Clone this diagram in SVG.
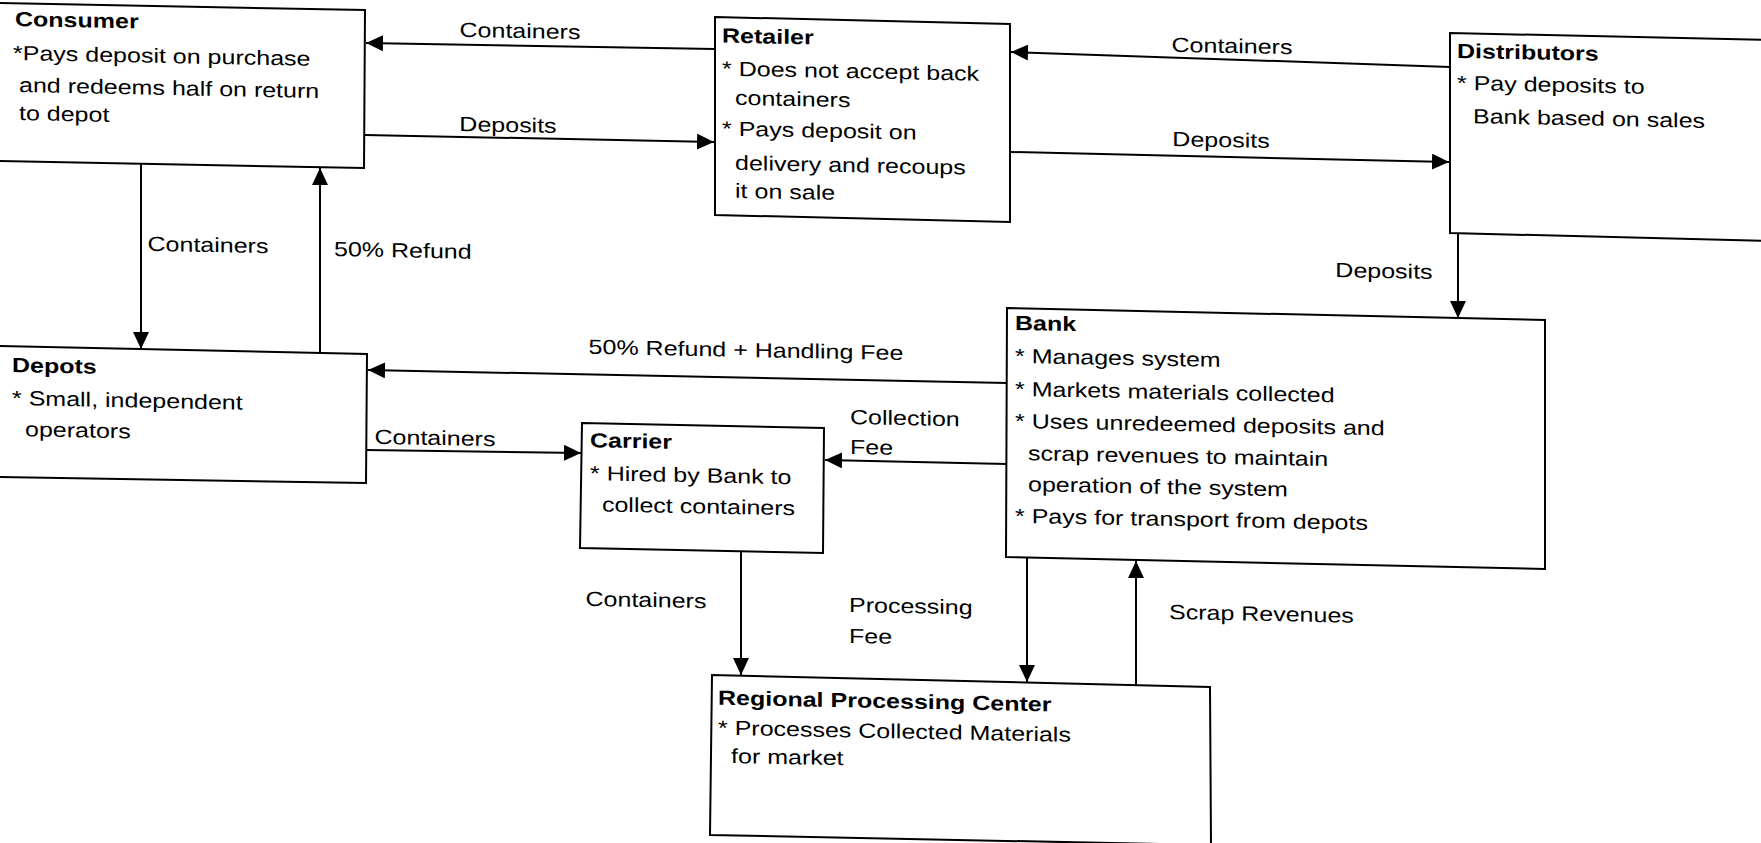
<svg xmlns="http://www.w3.org/2000/svg" width="1761" height="843" viewBox="0 0 1761 843">
<defs>
<style>
.box{fill:#fff;stroke:#000;stroke-width:2;stroke-linejoin:miter}
.t{font-family:"Liberation Sans",Arial,sans-serif;font-size:20.5px;fill:#000}
.b{font-weight:bold}
.c{stroke:#000;stroke-width:2;fill:none;marker-end:url(#ah)}
.m{text-anchor:middle}
</style>
<marker id="ah" markerUnits="userSpaceOnUse" markerWidth="18" markerHeight="16" refX="17" refY="8" orient="auto">
<path d="M0,0 L17,8 L0,16 z" fill="#000"/>
</marker>
</defs>
<rect width="1761" height="843" fill="#fff"/>
<g id="connectors">
<line class="c" x1="715" y1="49" x2="366" y2="43"/>
<line class="c" x1="365" y1="135" x2="714" y2="142"/>
<line class="c" x1="1450" y1="67" x2="1011" y2="52"/>
<line class="c" x1="1011" y1="152" x2="1449" y2="162"/>
<line class="c" x1="1458" y1="234" x2="1458" y2="318"/>
<line class="c" x1="141" y1="164" x2="141" y2="349"/>
<line class="c" x1="320" y1="353" x2="320" y2="168"/>
<line class="c" x1="1007" y1="383" x2="368" y2="370"/>
<line class="c" x1="366" y1="450" x2="581" y2="453"/>
<line class="c" x1="1007" y1="464" x2="825" y2="460"/>
<line class="c" x1="741" y1="551" x2="741" y2="675"/>
<line class="c" x1="1027" y1="558" x2="1027" y2="682"/>
<line class="c" x1="1136" y1="685" x2="1136" y2="561"/>
<text class="t m" x="520" y="38" transform="matrix(1.22,0.0244,0,1,-114.4,-12.69)">Containers</text>
<text class="t m" x="508" y="132" transform="matrix(1.22,0.0244,0,1,-111.76,-12.4)">Deposits</text>
<text class="t m" x="1232" y="53" transform="matrix(1.22,0.0244,0,1,-271.04,-30.06)">Containers</text>
<text class="t m" x="1221" y="147" transform="matrix(1.22,0.0244,0,1,-268.62,-29.79)">Deposits</text>
<text class="t m" x="1384" y="278" transform="matrix(1.22,0.0244,0,1,-304.48,-33.77)">Deposits</text>
<text class="t m" x="208" y="252" transform="matrix(1.22,0.0244,0,1,-45.76,-5.08)">Containers</text>
<text class="t" x="334" y="256" transform="matrix(1.22,0.0244,0,1,-73.48,-8.15)">50% Refund</text>
<text class="t m" x="746" y="357" transform="matrix(1.22,0.0244,0,1,-164.12,-18.2)">50% Refund + Handling Fee</text>
<text class="t m" x="435" y="445" transform="matrix(1.22,0.0244,0,1,-95.7,-10.61)">Containers</text>
<g transform="matrix(1.22,0.0244,0,1,-187,-20.74)">
<text class="t" x="850" y="424">Collection</text>
<text class="t" x="850" y="454">Fee</text>
</g>
<text class="t m" x="646" y="607" transform="matrix(1.22,0.0244,0,1,-142.12,-15.76)">Containers</text>
<g transform="matrix(1.22,0.0244,0,1,-186.78,-20.72)">
<text class="t" x="849" y="612">Processing</text>
<text class="t" x="849" y="643">Fee</text>
</g>
<text class="t" x="1169" y="619" transform="matrix(1.22,0.0244,0,1,-257.18,-28.52)">Scrap Revenues</text>
</g>
<g id="consumer">
<polygon class="box" points="-5,3 365,10 364,168 -5,161"/>
<g transform="matrix(1.22,0.0244,0,1,-3.3,-3.37)">
<text class="t b" x="15" y="29">Consumer</text>
<text class="t" x="13.4" y="63">*Pays deposit on purchase</text>
<text class="t" x="18.3" y="95">and redeems half on return</text>
<text class="t" x="18.3" y="123">to depot</text>
</g>
</g>
<g id="retailer">
<polygon class="box" points="715,17 1010,24 1010,222 715,215"/>
<g transform="matrix(1.22,0.0244,0,1,-158.84,-20.02)">
<text class="t b" x="722" y="45">Retailer</text>
<text class="t" x="722" y="78">* Does not accept back</text>
<text class="t" x="732.7" y="107">containers</text>
<text class="t" x="722" y="138">* Pays deposit on</text>
<text class="t" x="732.7" y="172">delivery and recoups</text>
<text class="t" x="732.7" y="200">it on sale</text>
</g>
</g>
<g id="distributors">
<polygon class="box" points="1450,33 1770,40 1770,241 1450,233"/>
<g transform="matrix(1.22,0.0244,0,1,-320.54,-37.61)">
<text class="t b" x="1457" y="60">Distributors</text>
<text class="t" x="1457" y="92">* Pay deposits to</text>
<text class="t" x="1470.1" y="125">Bank based on sales</text>
</g>
</g>
<g id="depots">
<polygon class="box" points="-5,346 367,354 366,483 -5,477"/>
<g transform="matrix(1.22,0.0244,0,1,-2.64,-2.25)">
<text class="t b" x="12" y="374">Depots</text>
<text class="t" x="12" y="407">* Small, independent</text>
<text class="t" x="22.7" y="438">operators</text>
</g>
</g>
<g id="carrier">
<polygon class="box" points="582,423 824,428 823,553 580,548"/>
<g transform="matrix(1.22,0.0244,0,1,-129.8,-16.2)">
<text class="t b" x="590" y="449">Carrier</text>
<text class="t" x="590" y="482">* Hired by Bank to</text>
<text class="t" x="599.8" y="513">collect containers</text>
</g>
</g>
<g id="bank">
<polygon class="box" points="1007,308 1545,320 1545,569 1006,557"/>
<g transform="matrix(1.22,0.0244,0,1,-223.3,-27.87)">
<text class="t b" x="1015" y="333">Bank</text>
<text class="t" x="1015" y="366">* Manages system</text>
<text class="t" x="1015" y="399">* Markets materials collected</text>
<text class="t" x="1015" y="431">* Uses unredeemed deposits and</text>
<text class="t" x="1025.7" y="463">scrap revenues to maintain</text>
<text class="t" x="1025.7" y="494">operation of the system</text>
<text class="t" x="1015" y="526">* Pays for transport from depots</text>
</g>
</g>
<g id="rpc">
<polygon class="box" points="712,675 1210,687 1211,845 710,835"/>
<g transform="matrix(1.22,0.0244,0,1,-157.96,-20.76)">
<text class="t b" x="718" y="708">Regional Processing Center</text>
<text class="t" x="718" y="738">* Processes Collected Materials</text>
<text class="t" x="728.7" y="766">for market</text>
</g>
</g>
</svg>
